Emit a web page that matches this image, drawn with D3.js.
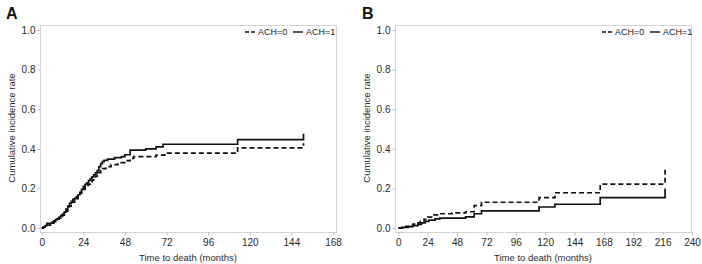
<!DOCTYPE html>
<html>
<head>
<meta charset="utf-8">
<script src="https://cdn.jsdelivr.net/npm/d3@7"></script>
<style>
  body { margin: 0; background: #fff; }
  svg { display: block; font-family: "Liberation Sans", Arial, sans-serif; }
</style>
</head>
<body>
<div id="chart"></div>
<script>
// panel A - months / cumulative incidence
var timeA0 = [0, 1, 3, 5, 7, 9, 10, 11, 12, 13, 14, 15, 16, 17, 18, 19, 20, 21, 22, 23, 24, 25, 26, 27, 28, 29, 30, 31, 32, 33, 34, 35, 37, 40, 44, 48, 51, 53, 66, 71, 113, 151];
var rateA0 = [0, 0.005, 0.015, 0.025, 0.032, 0.045, 0.05, 0.058, 0.065, 0.075, 0.085, 0.1, 0.11, 0.12, 0.13, 0.14, 0.148, 0.16, 0.175, 0.185, 0.195, 0.205, 0.215, 0.222, 0.232, 0.242, 0.25, 0.26, 0.268, 0.28, 0.29, 0.30, 0.31, 0.32, 0.33, 0.34, 0.352, 0.36, 0.368, 0.378, 0.405, 0.428];
var timeA1 = [0, 1, 2, 3, 6, 7, 8, 9, 10, 11, 12, 13, 14, 15, 16, 17, 18, 19, 20, 21, 22, 23, 24, 25, 26, 27, 28, 29, 30, 31, 32, 33, 34, 35, 36, 38, 42, 46, 48, 51, 60, 66, 70, 113, 151];
var rateA1 = [0, 0.006, 0.012, 0.024, 0.03, 0.036, 0.042, 0.048, 0.055, 0.062, 0.07, 0.08, 0.095, 0.11, 0.125, 0.135, 0.145, 0.15, 0.158, 0.168, 0.18, 0.195, 0.21, 0.22, 0.228, 0.24, 0.25, 0.258, 0.268, 0.278, 0.29, 0.31, 0.325, 0.335, 0.342, 0.348, 0.355, 0.36, 0.37, 0.393, 0.40, 0.41, 0.423, 0.446, 0.476];

// panel B
var timeB0 = [0, 3, 6, 9, 12, 15, 18, 21, 24, 28, 32, 44, 55, 62, 68, 115, 128, 165, 218];
var rateB0 = [0, 0.004, 0.008, 0.014, 0.02, 0.026, 0.034, 0.044, 0.055, 0.066, 0.072, 0.076, 0.082, 0.113, 0.13, 0.153, 0.178, 0.222, 0.297];
var timeB1 = [0, 4, 8, 12, 16, 19, 22, 25, 30, 34, 55, 62, 68, 115, 128, 165, 218];
var rateB1 = [0, 0.003, 0.007, 0.012, 0.018, 0.026, 0.033, 0.04, 0.046, 0.05, 0.056, 0.072, 0.086, 0.106, 0.12, 0.153, 0.2];

var xTicksA = [0, 24, 48, 72, 96, 120, 144, 168];
var xTicksB = [0, 24, 48, 72, 96, 120, 144, 168, 192, 216, 240];
var yTicks = [0, 0.2, 0.4, 0.6, 0.8, 1.0];
var groups = ["ACH=0", "ACH=1"];

var width = 702, height = 264;
var svg = d3.select("#chart").append("svg")
    .attr("width", width)
    .attr("height", height);

function zip(t, v) {
    return t.map(function(d, i) { return [d, v[i]]; });
}

function drawPanel(opts) {
    var g = svg.append("g");
    var x = d3.scaleLinear().domain([0, opts.xMax]).range([opts.x0, opts.x1]);
    var y = d3.scaleLinear().domain([0, 1]).range([228, 30]);

    // frame
    g.append("rect")
        .attr("x", opts.fx0 + 0.5)
        .attr("y", 25.5)
        .attr("width", opts.fx1 - opts.fx0)
        .attr("height", 232 - 25)
        .attr("fill", "none")
        .attr("stroke", "#d4d4d4");

    var xAxis = g.append("g")
        .attr("transform", "translate(0," + 232.5 + ")")
        .call(d3.axisBottom(x).tickValues(opts.xTicks).tickSize(3).tickPadding(3).tickFormat(d3.format("d")));
    var yAxis = g.append("g")
        .attr("transform", "translate(" + (opts.fx0 + 0.5) + ",0)")
        .call(d3.axisLeft(y).tickValues(yTicks).tickSize(3).tickPadding(2).tickFormat(d3.format(".1f")));

    [xAxis, yAxis].forEach(function(a) {
        a.select(".domain").remove();
        a.selectAll(".tick line").attr("stroke", "#bbb");
        a.selectAll(".tick text")
            .attr("fill", "#2a2a2a")
            .style("font-size", "10px")
            .style("font-family", "Liberation Sans, Arial, sans-serif");
    });

    // panel letter
    g.append("text")
        .attr("x", opts.letterX)
        .attr("y", 19)
        .style("font-size", "16px")
        .style("font-weight", "bold")
        .attr("fill", "#111")
        .text(opts.letter);

    // axis titles
    g.append("text")
        .attr("x", (opts.fx0 + opts.fx1) / 2)
        .attr("y", 261)
        .attr("text-anchor", "middle")
        .style("font-size", "9.5px")
        .attr("fill", "#2a2a2a")
        .text("Time to death (months)");

    g.append("text")
        .attr("transform", "translate(" + (opts.fx0 - 25) + ",128) rotate(-90)")
        .attr("text-anchor", "middle")
        .style("font-size", "9.5px")
        .attr("fill", "#2a2a2a")
        .text("Cumulative incidence rate");

    var line = d3.line()
        .curve(d3.curveStepAfter)
        .x(function(d) { return x(d[0]); })
        .y(function(d) { return y(d[1]); });

    g.append("path")
        .datum(opts.s0)
        .attr("d", line)
        .attr("fill", "none")
        .attr("stroke", "#111")
        .attr("stroke-width", 1.7)
        .attr("stroke-dasharray", "5,3");

    g.append("path")
        .datum(opts.s1)
        .attr("d", line)
        .attr("fill", "none")
        .attr("stroke", "#111")
        .attr("stroke-width", 1.7);

    // legend, top right
    var leg = g.append("g").attr("transform", "translate(" + opts.legX + ",32)");
    leg.append("line")
        .attr("x1", 0).attr("x2", 10)
        .attr("stroke", "#111").attr("stroke-width", 1.4)
        .attr("stroke-dasharray", "4,2");
    leg.append("text")
        .attr("x", 13).attr("dy", "0.35em")
        .style("font-size", "9px").attr("fill", "#222")
        .text(groups[0]);
    leg.append("line")
        .attr("x1", 48).attr("x2", 58)
        .attr("stroke", "#111").attr("stroke-width", 1.4);
    leg.append("text")
        .attr("x", 61).attr("dy", "0.35em")
        .style("font-size", "9px").attr("fill", "#222")
        .text(groups[1]);
}

drawPanel({
    letter: "A", letterX: 6,
    fx0: 40, fx1: 336, x0: 41.7, x1: 333,
    xMax: 168, xTicks: xTicksA,
    s0: zip(timeA0, rateA0), s1: zip(timeA1, rateA1),
    legX: 245
});

drawPanel({
    letter: "B", letterX: 362,
    fx0: 395, fx1: 691, x0: 398.3, x1: 692,
    xMax: 240, xTicks: xTicksB,
    s0: zip(timeB0, rateB0), s1: zip(timeB1, rateB1),
    legX: 602
});
</script>
</body>
</html>
